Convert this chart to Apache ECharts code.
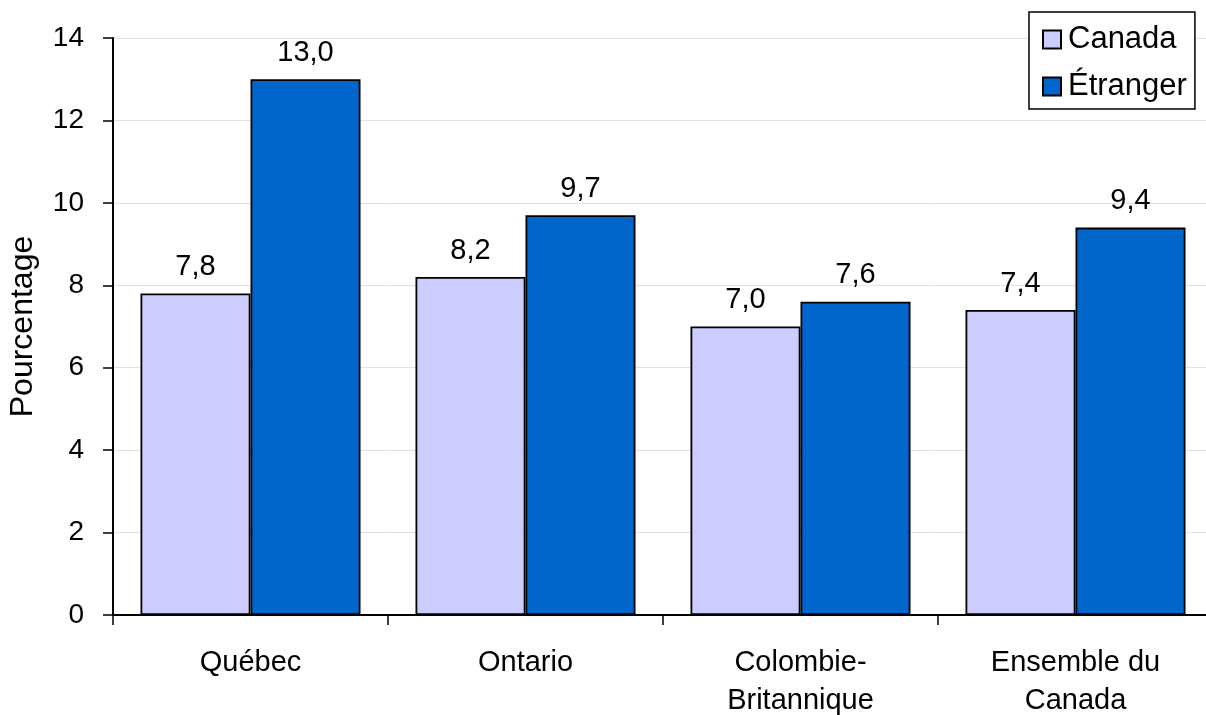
<!DOCTYPE html>
<html>
<head>
<meta charset="utf-8">
<script src="https://cdn.jsdelivr.net/npm/echarts@6/dist/echarts.min.js"></script>
<style>
  html, body { margin: 0; padding: 0; background: #fff; }
  #chart { width: 1206px; height: 715px; }
</style>
</head>
<body>
<div id="chart"></div>
<script>
// Regions shown along the horizontal axis
const categories = ['Québec', 'Ontario', 'Colombie-\nBritannique', 'Ensemble du\nCanada'];
// Percentages by place of birth
const canadaValues = [7.8, 8.2, 7.0, 7.4];
const etrangerValues = [13.0, 9.7, 7.6, 9.4];
const seriesNames = ['Canada', 'Étranger'];
const yAxisTitle = 'Pourcentage';

const FONT = '"Liberation Sans", Arial, sans-serif';
const fmt = v => v.toFixed(1).replace('.', ',');

const chart = echarts.init(document.getElementById('chart'), null, { renderer: 'canvas' });

const labelStyle = {
  show: true,
  position: 'top',
  distance: 12,
  fontFamily: FONT,
  fontSize: 29,
  color: '#000',
  formatter: p => fmt(p.value)
};

chart.setOption({
  animation: false,
  backgroundColor: '#fff',
  grid: {
    left: 113, right: -7, top: 38, bottom: 100,
    containLabel: false,
    outerBoundsMode: 'none'
  },
  legend: {
    orient: 'vertical',
    left: 1029,
    top: 12,
    padding: [12, 8, 7, 13],
    itemGap: 16,
    itemWidth: 18,
    itemHeight: 18,
    icon: 'rect',
    borderColor: '#000',
    borderWidth: 1.5,
    backgroundColor: '#fff',
    textStyle: { fontFamily: FONT, fontSize: 31, color: '#000', padding: [0, 0, 0, 2] },
    data: seriesNames
  },
  xAxis: {
    type: 'category',
    data: categories,
    axisLine: { lineStyle: { color: '#000', width: 2 } },
    axisTick: { show: true, length: 10, lineStyle: { color: '#000', width: 1.5 } },
    axisLabel: {
      fontFamily: FONT, fontSize: 29, color: '#000',
      margin: 29, lineHeight: 38, interval: 0
    },
    splitLine: { show: false }
  },
  yAxis: {
    type: 'value',
    min: 0,
    max: 14,
    interval: 2,
    name: yAxisTitle,
    nameLocation: 'middle',
    nameGap: 74,
    nameRotate: 90,
    nameTextStyle: { fontFamily: FONT, fontSize: 32, color: '#000' },
    axisLine: { show: true, lineStyle: { color: '#000', width: 2 } },
    axisTick: { show: true, inside: false, length: 10, lineStyle: { color: '#000', width: 1.5 } },
    axisLabel: { fontFamily: FONT, fontSize: 28, color: '#000', margin: 29 },
    splitLine: { show: true, lineStyle: { color: '#e2e2e2', width: 1 } }
  },
  series: [
    {
      name: seriesNames[0],
      type: 'bar',
      data: canadaValues,
      barGap: '0%',
      barCategoryGap: '20%',
      itemStyle: { color: '#CCCCFF', borderColor: '#000', borderWidth: 1.8 },
      label: labelStyle
    },
    {
      name: seriesNames[1],
      type: 'bar',
      data: etrangerValues,
      barGap: '0%',
      barCategoryGap: '20%',
      itemStyle: { color: '#0066CC', borderColor: '#000', borderWidth: 1.8 },
      label: labelStyle
    }
  ]
});
</script>
</body>
</html>
